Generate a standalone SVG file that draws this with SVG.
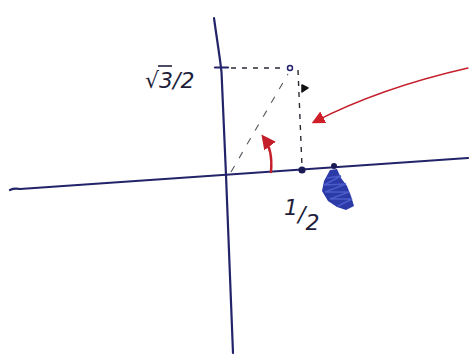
<svg xmlns="http://www.w3.org/2000/svg" width="470" height="358" viewBox="0 0 470 358">
<defs>
<style>
.axis{stroke:#23236a;stroke-width:2.2;fill:none;stroke-linecap:round;stroke-linejoin:round}
.dash{stroke:#2a2a35;stroke-width:1.4;fill:none;stroke-dasharray:5 6}
.faint{stroke:#55555f;stroke-width:1.1;fill:none;stroke-dasharray:7 9}
.red{stroke:#c41e2a;fill:none;stroke-linecap:round}
.lbl{font-family:"DejaVu Sans","Liberation Sans",sans-serif;font-style:italic;fill:#1e1e3a}
</style>
<marker id="ah" viewBox="0 0 10 10" refX="7" refY="5" markerWidth="6" markerHeight="6" orient="auto" markerUnits="strokeWidth">
<path d="M0,0 L10,5 L0,10 Z" fill="#c41e2a"/>
</marker>
<marker id="ah2" viewBox="0 0 10 10" refX="8" refY="5" markerWidth="10" markerHeight="10" orient="auto" markerUnits="strokeWidth">
<path d="M0,0 L10,5 L0,10 Z" fill="#d01e28"/>
</marker>
</defs>
<rect width="470" height="358" fill="#ffffff"/>
<g id="axes">
<path class="axis" d="M10,190 Q14,188 20,189 L468,158"/>
<path class="axis" d="M214,18 C217,40 220,58 221.5,72 L226,175 L233,353"/>
<line class="axis" x1="215" y1="67.5" x2="228" y2="67.5"/>
</g>
<g id="connectors">
<line class="dash" x1="231" y1="68" x2="286" y2="68"/>
<line class="faint" x1="231" y1="172" x2="288" y2="74"/>
<line class="dash" x1="298" y1="70" x2="302" y2="167"/>
<path class="red" stroke-width="2.4" d="M271,172 Q273,150 264,138" marker-end="url(#ah)"/>
<path class="red" stroke-width="1.3" d="M468,68 Q380,88 314,122" marker-end="url(#ah2)"/>
</g>
<g id="point">
<circle cx="290" cy="68" r="2.5" fill="#fff" stroke="#23236a" stroke-width="1.5"/>
<path d="M302,85 L308,88 L302,92 Z" fill="#111" stroke="#111" stroke-width="1.5" stroke-linejoin="round"/>
</g>
<g id="dots">
<circle cx="302" cy="170" r="3.6" fill="#1a1a55"/>
<circle cx="334" cy="166" r="3" fill="#1a1a55"/>
<path d="M330,170 L337,169 L341,178 L347,186 L351,196 L354,206 L346,210 L337,207 L328,201 L322,191 L324,181 Z" fill="#2c3aa8"/>
<path d="M327,178 L341,176 L324,185 L346,184 L325,192 L349,192 L330,199 L352,199 L338,206" stroke="#4a5cc8" stroke-width="1.5" fill="none"/>
</g>
<g id="labels">
<text class="lbl" x="145" y="88" font-size="22">√3/2</text>
<line x1="158" y1="66" x2="172" y2="66" stroke="#1e1e3a" stroke-width="1.6"/>
<text class="lbl" font-size="22"><tspan x="284" y="215">1</tspan><tspan y="222">/</tspan><tspan y="230">2</tspan></text>
</g>
</svg>
